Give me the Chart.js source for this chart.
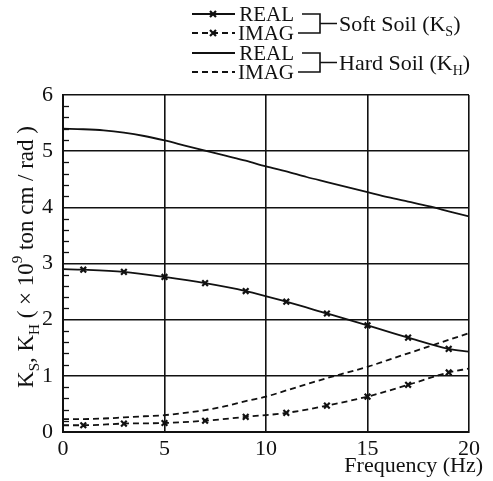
<!DOCTYPE html>
<html>
<head>
<meta charset="utf-8">
<script src="https://cdn.jsdelivr.net/npm/chart.js@4/dist/chart.umd.min.js"></script>
<style>
  html, body { margin: 0; padding: 0; background: #fff; }
  canvas { display: block; }
</style>
</head>
<body>
<canvas id="stiffness" width="493" height="481"></canvas>
<script>
// Frequency (Hz) sample points
const freqSoft = [0, 1, 3, 5, 7, 9, 11, 13, 15, 17, 19, 20];
const freqHard = [0, 1, 2, 3, 4, 5, 6, 7, 8, 9, 10, 11, 12, 13, 14, 15, 16, 17, 18, 19, 20];

// Soft soil impedance K_S (x 10^9 ton cm / rad)
const softReal = [2.90, 2.89, 2.85, 2.76, 2.65, 2.51, 2.32, 2.11, 1.90, 1.68, 1.48, 1.43];
const softImag = [0.12, 0.12, 0.15, 0.16, 0.20, 0.27, 0.34, 0.47, 0.63, 0.84, 1.06, 1.13];

// Hard soil impedance K_H
const hardReal = [5.40, 5.39, 5.37, 5.33, 5.27, 5.19, 5.10, 5.01, 4.92, 4.83, 4.73,
                  4.64, 4.54, 4.45, 4.36, 4.27, 4.18, 4.10, 4.02, 3.93, 3.84];
const hardImag = [0.23, 0.23, 0.24, 0.26, 0.28, 0.30, 0.34, 0.39, 0.46, 0.55, 0.63,
                  0.74, 0.85, 0.96, 1.06, 1.16, 1.28, 1.40, 1.52, 1.64, 1.76];

const xTicks = [0, 5, 10, 15, 20];
const yTicks = [0, 1, 2, 3, 4, 5, 6];

const INK = '#111';
const SERIF = '"Liberation Serif", "DejaVu Serif", serif';
const DASH = [6, 4];

const pts = (xs, ys) => xs.map((x, i) => ({ x: x, y: ys[i] }));
// crosses only on the odd-frequency samples
const softMarks = freqSoft.map(f => (f % 2 === 1 ? 4 : 0));

const series = (data, dashed, marks) => ({
  data: data,
  borderColor: INK,
  borderWidth: 1.8,
  borderDash: dashed ? DASH : [],
  pointStyle: 'crossRot',
  pointRadius: marks || 0,
  pointBorderColor: INK,
  pointBorderWidth: 2.2,
  cubicInterpolationMode: 'monotone',
  fill: false
});

// small inward ticks every 0.2 on the left axis
const minorTicks = {
  id: 'minorTicks',
  afterDatasetsDraw(chart) {
    const { ctx, chartArea } = chart;
    const y = chart.scales.y;
    ctx.save();
    ctx.strokeStyle = INK;
    ctx.lineWidth = 1.3;
    for (let i = 1; i < 30; i++) {
      if (i % 5 === 0) continue;
      const py = Math.round(y.getPixelForValue(i / 5)) + 0.5;
      ctx.beginPath();
      ctx.moveTo(chartArea.left, py);
      ctx.lineTo(chartArea.left + 6, py);
      ctx.stroke();
    }
    ctx.restore();
  }
};

// write a run of [text, size, shift] pieces starting at x
function drawRuns(ctx, runs, x, y) {
  runs.forEach(([t, size, dy]) => {
    ctx.font = size + 'px ' + SERIF;
    ctx.fillText(t, x, y + dy);
    x += ctx.measureText(t).width;
  });
  return x;
}
function runsWidth(ctx, runs) {
  let w = 0;
  runs.forEach(([t, size]) => { ctx.font = size + 'px ' + SERIF; w += ctx.measureText(t).width; });
  return w;
}

const annotations = {
  id: 'annotations',
  afterDraw(chart) {
    const { ctx } = chart;
    ctx.save();
    ctx.fillStyle = INK;
    ctx.strokeStyle = INK;
    ctx.textBaseline = 'alphabetic';

    // y axis title, rotated
    const yRuns = [['K', 23, 0], ['S', 15, 6], [', K', 23, 0], ['H', 15, 6],
                   [' ( \u00d7 10', 23, 0], ['9', 15, -11], [' ton cm / rad )', 23, 0]];
    ctx.save();
    ctx.translate(33, 257);
    ctx.rotate(-Math.PI / 2);
    drawRuns(ctx, yRuns, -runsWidth(ctx, yRuns) / 2, 0);
    ctx.restore();

    // x axis title
    ctx.font = '22px ' + SERIF;
    ctx.textAlign = 'right';
    ctx.fillText('Frequency (Hz)', 483, 472);

    // legend: line samples, labels and brackets
    const rows = [14, 33, 53, 72];
    const kinds = [[false, true], [true, true], [false, false], [true, false]];
    ctx.lineWidth = 1.8;
    rows.forEach((ry, i) => {
      const [dashed, mark] = kinds[i];
      ctx.setLineDash(dashed ? DASH : []);
      ctx.beginPath();
      ctx.moveTo(192, ry);
      ctx.lineTo(235, ry);
      ctx.stroke();
      ctx.setLineDash([]);
      if (mark) {
        ctx.lineWidth = 2.2;
        ctx.beginPath();
        ctx.moveTo(210, ry - 3); ctx.lineTo(216, ry + 3);
        ctx.moveTo(216, ry - 3); ctx.lineTo(210, ry + 3);
        ctx.stroke();
        ctx.lineWidth = 1.8;
      }
      ctx.font = '21px ' + SERIF;
      ctx.textAlign = 'right';
      ctx.fillText(i % 2 === 0 ? 'REAL' : 'IMAG', 294, ry + 7);
    });

    ctx.textAlign = 'left';
    [[rows[0], rows[1], 'S', 'Soft Soil (K'], [rows[2], rows[3], 'H', 'Hard Soil (K']].forEach(([a, b, sub, label]) => {
      const mid = (a + b) / 2;
      ctx.lineWidth = 1.6;
      ctx.beginPath();
      ctx.moveTo(302, a); ctx.lineTo(320, a); ctx.lineTo(320, b); ctx.lineTo(298, b);
      ctx.moveTo(320, mid); ctx.lineTo(337, mid);
      ctx.stroke();
      drawRuns(ctx, [[label, 22, 0], [sub, 14, 5], [')', 22, 0]], 339, mid + 7);
    });
    ctx.restore();
  }
};

new Chart(document.getElementById('stiffness'), {
  type: 'line',
  data: {
    datasets: [
      series(pts(freqSoft, softReal), false, softMarks),
      series(pts(freqSoft, softImag), true, softMarks),
      series(pts(freqHard, hardReal), false),
      series(pts(freqHard, hardImag), true)
    ]
  },
  options: {
    responsive: false,
    animation: false,
    devicePixelRatio: 1,
    layout: { padding: { top: 95, right: 24, left: 0, bottom: 0 } },
    plugins: { legend: { display: false }, tooltip: { enabled: false } },
    scales: {
      x: {
        type: 'linear',
        min: 0, max: 20,
        afterFit: s => { s.height = 49; },
        afterBuildTicks: s => { s.ticks = xTicks.map(v => ({ value: v })); },
        grid: { color: INK, lineWidth: 1.6, drawTicks: false },
        border: { color: INK, width: 2 },
        ticks: { color: INK, padding: 4, font: { family: SERIF, size: 22 }, maxRotation: 0 }
      },
      y: {
        min: 0, max: 6,
        afterFit: s => { s.width = 63; },
        afterBuildTicks: s => { s.ticks = yTicks.map(v => ({ value: v })); },
        grid: { color: INK, lineWidth: 1.6, drawTicks: false },
        border: { color: INK, width: 2 },
        ticks: { color: INK, padding: 10, font: { family: SERIF, size: 22 } }
      }
    }
  },
  plugins: [minorTicks, annotations]
});
</script>
</body>
</html>
